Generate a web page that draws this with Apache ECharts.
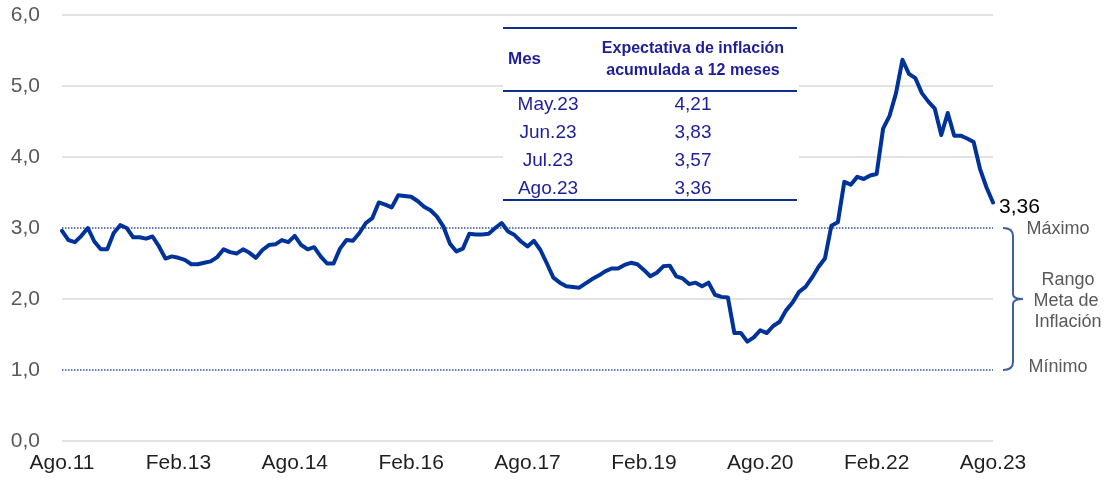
<!DOCTYPE html>
<html>
<head>
<meta charset="utf-8">
<script src="https://cdn.jsdelivr.net/npm/echarts@6/dist/echarts.min.js"></script>
<style>
  html, body { margin: 0; padding: 0; background: #ffffff; }
  #chart { width: 1107px; height: 483px; }
</style>
</head>
<body>
<div id="chart"></div>
<script>
// Month abbreviations (Spanish) and series start
const monthNames = ['Ene','Feb','Mar','Abr','May','Jun','Jul','Ago','Sep','Oct','Nov','Dic'];
const startMonthIndex = 7;   // Ago
const startYear = 2011;

// Expectativa de inflación a 12 meses (%), monthly, Ago.11 - Ago.23
const values2011_2014 = [2.96, 2.83, 2.80, 2.89, 3.00, 2.81, 2.70, 2.70, 2.93, 3.04, 3.00, 2.87, 2.87, 2.85, 2.88, 2.74, 2.57, 2.60, 2.58, 2.55, 2.49, 2.49, 2.51, 2.53, 2.59, 2.70, 2.66, 2.64, 2.70, 2.65, 2.58];
const values2014_2016 = [2.69, 2.76, 2.77, 2.83, 2.80, 2.89, 2.76, 2.70, 2.73, 2.60, 2.50, 2.50, 2.71, 2.83, 2.82, 2.93, 3.07, 3.14, 3.36, 3.33, 3.29, 3.46, 3.45, 3.44, 3.38, 3.30, 3.25, 3.16, 3.02];
const values2016_2019 = [2.78, 2.67, 2.71, 2.92, 2.91, 2.91, 2.92, 3.00, 3.07, 2.95, 2.90, 2.81, 2.74, 2.82, 2.69, 2.50, 2.30, 2.23, 2.18, 2.17, 2.16, 2.22, 2.28, 2.33, 2.39, 2.43, 2.43, 2.48, 2.51, 2.49];
const values2019_2021 = [2.41, 2.32, 2.37, 2.46, 2.47, 2.32, 2.29, 2.21, 2.23, 2.18, 2.23, 2.06, 2.03, 2.02, 1.52, 1.52, 1.40, 1.46, 1.56, 1.52, 1.62, 1.68, 1.84, 1.95, 2.10, 2.17, 2.30, 2.45, 2.57];
const values2021_2023 = [3.03, 3.08, 3.65, 3.61, 3.72, 3.69, 3.74, 3.76, 4.40, 4.58, 4.90, 5.37, 5.17, 5.11, 4.90, 4.78, 4.68, 4.31, 4.62, 4.30, 4.30, 4.26, 4.21, 3.83, 3.57, 3.36];

// Target range
const rangoMax = 3;
const rangoMin = 1;

// Y axis ticks
const yMin = 0, yMax = 6, yInterval = 1;

// Table
const tableMonths = ['May.23', 'Jun.23', 'Jul.23', 'Ago.23'];
const tableValues = ['4,21', '3,83', '3,57', '3,36'];

const values = [].concat(values2011_2014, values2014_2016, values2016_2019, values2019_2021, values2021_2023);
const categories = values.map((v, i) => {
  const m = startMonthIndex + i;
  const name = monthNames[m % 12];
  const yy = String((startYear + Math.floor(m / 12)) % 100).padStart(2, '0');
  return name + '.' + yy;
});

const fmt = (v, d) => v.toFixed(d).replace('.', ',');
const lineColor = '#003399';
const tableColor = '#1e1e98';
const tableLine = '#0a2f8f';
const grayText = '#595959';
const fontFam = '"Liberation Sans", Arial, sans-serif';

const chart = echarts.init(document.getElementById('chart'), null, { renderer: 'canvas' });

// gridline colours per tick (0..6): hide at 1 and 3 where dotted lines sit
const splitColors = [];
for (let t = yMin; t <= yMax; t += yInterval) {
  splitColors.push((t === rangoMax || t === rangoMin) ? 'rgba(0,0,0,0)' : '#d9d9d9');
}

chart.setOption({
  animation: false,
  backgroundColor: '#ffffff',
  grid: { left: 62, right: 114, top: 15, bottom: 42, containLabel: false },
  xAxis: {
    type: 'category',
    data: categories,
    boundaryGap: false,
    axisLine: { show: false },
    axisTick: { show: false },
    splitLine: { show: false },
    axisLabel: {
      interval: 17,
      showMinLabel: true,
      showMaxLabel: true,
      hideOverlap: false,
      margin: 12,
      color: '#1f1f1f',
      fontSize: 21,
      fontFamily: fontFam
    }
  },
  yAxis: {
    type: 'value',
    min: yMin, max: yMax, interval: yInterval,
    axisLine: { show: false },
    axisTick: { show: false },
    axisLabel: {
      margin: 22,
      color: grayText,
      fontSize: 21,
      fontFamily: fontFam,
      formatter: (v) => fmt(v, 1)
    },
    splitLine: { show: true, lineStyle: { color: splitColors, width: 1.5 } }
  },
  series: [{
    type: 'line',
    data: values,
    showSymbol: false,
    symbol: 'none',
    smooth: false,
    lineStyle: { color: lineColor, width: 4, join: 'round', cap: 'round' },
    itemStyle: { color: lineColor },
    z: 5,
    endLabel: {
      show: true,
      distance: 6,
      offset: [0, 5],
      formatter: (p) => fmt(p.value, 2),
      color: '#000',
      fontSize: 21,
      fontFamily: fontFam
    },
    markLine: {
      silent: true,
      symbol: 'none',
      label: { show: false },
      lineStyle: { color: '#2f50a3', type: 'dotted', width: 1.5 },
      data: [{ yAxis: rangoMax }, { yAxis: rangoMin }]
    }
  }]
});

// Annotations anchored to the axes
const last = values.length - 1;
const pMax = chart.convertToPixel({ gridIndex: 0 }, [last, rangoMax]);
const pMin = chart.convertToPixel({ gridIndex: 0 }, [last, rangoMin]);
const yT = pMax[1], yB = pMin[1], yM = (yT + yB) / 2;
const bx0 = pMax[0] + 10, bxv = bx0 + 10, bxn = bxv + 10;
const braceStyle = { stroke: '#3d5f9c', lineWidth: 2, fill: 'none' };
const brace = [
  { type: 'bezierCurve', shape: { x1: bx0, y1: yT, cpx1: bxv, cpy1: yT, x2: bxv, y2: yT + 8 }, style: braceStyle, z: 10 },
  { type: 'line', shape: { x1: bxv, y1: yT + 8, x2: bxv, y2: yM - 5 }, style: braceStyle, z: 10 },
  { type: 'bezierCurve', shape: { x1: bxv, y1: yM - 5, cpx1: bxv, cpy1: yM, x2: bxn, y2: yM }, style: braceStyle, z: 10 },
  { type: 'bezierCurve', shape: { x1: bxn, y1: yM, cpx1: bxv, cpy1: yM, x2: bxv, y2: yM + 5 }, style: braceStyle, z: 10 },
  { type: 'line', shape: { x1: bxv, y1: yM + 5, x2: bxv, y2: yB - 8 }, style: braceStyle, z: 10 },
  { type: 'bezierCurve', shape: { x1: bxv, y1: yB - 8, cpx1: bxv, cpy1: yB, x2: bx0, y2: yB }, style: braceStyle, z: 10 }
];

const annX = 1058;
const annStyle = (txt, x, y) => ({
  type: 'text', x: x, y: y,
  style: { text: txt, fill: grayText, font: '18px ' + fontFam, textAlign: 'center', textVerticalAlign: 'middle' },
  z: 10
});

// Table layout
const tL = 503, tR = 799, tTop = 28, tHead = 91, tBot = 200;
const col1 = 548, col2 = 693;
const rowY0 = 105, rowStep = 28;

const graphics = brace.concat([
  annStyle('Máximo', annX, yT + 1),
  annStyle('Rango', annX + 10, yM - 19),
  annStyle('Meta de', annX + 8, yM + 2),
  annStyle('Inflación', annX + 10, yM + 23),
  annStyle('Mínimo', annX, yB - 3),
  { type: 'rect', shape: { x: tL, y: tTop, width: tR - tL, height: tBot - tTop }, style: { fill: '#ffffff' }, z: 20 },
  { type: 'line', shape: { x1: tL, y1: tTop, x2: tR - 2, y2: tTop }, style: { stroke: tableLine, lineWidth: 2 }, z: 21 },
  { type: 'line', shape: { x1: tL, y1: tHead, x2: tR - 2, y2: tHead }, style: { stroke: tableLine, lineWidth: 2 }, z: 21 },
  { type: 'line', shape: { x1: tL, y1: tBot, x2: tR - 2, y2: tBot }, style: { stroke: tableLine, lineWidth: 2 }, z: 21 },
  { type: 'text', x: 508, y: 59, style: { text: 'Mes', fill: tableColor, font: 'bold 17px ' + fontFam, textAlign: 'left', textVerticalAlign: 'middle' }, z: 22 },
  { type: 'text', x: col2, y: 49, style: { text: 'Expectativa de inflación', fill: tableColor, font: 'bold 16px ' + fontFam, textAlign: 'center', textVerticalAlign: 'middle' }, z: 22 },
  { type: 'text', x: col2, y: 71, style: { text: 'acumulada a 12 meses', fill: tableColor, font: 'bold 16px ' + fontFam, textAlign: 'center', textVerticalAlign: 'middle' }, z: 22 }
]);
tableMonths.forEach((m, i) => {
  const y = rowY0 + i * rowStep;
  graphics.push({ type: 'text', x: col1, y: y, style: { text: m, fill: tableColor, font: '19px ' + fontFam, textAlign: 'center', textVerticalAlign: 'middle' }, z: 22 });
  graphics.push({ type: 'text', x: col2, y: y, style: { text: tableValues[i], fill: tableColor, font: '19px ' + fontFam, textAlign: 'center', textVerticalAlign: 'middle' }, z: 22 });
});

chart.setOption({ graphic: graphics });
</script>
</body>
</html>
